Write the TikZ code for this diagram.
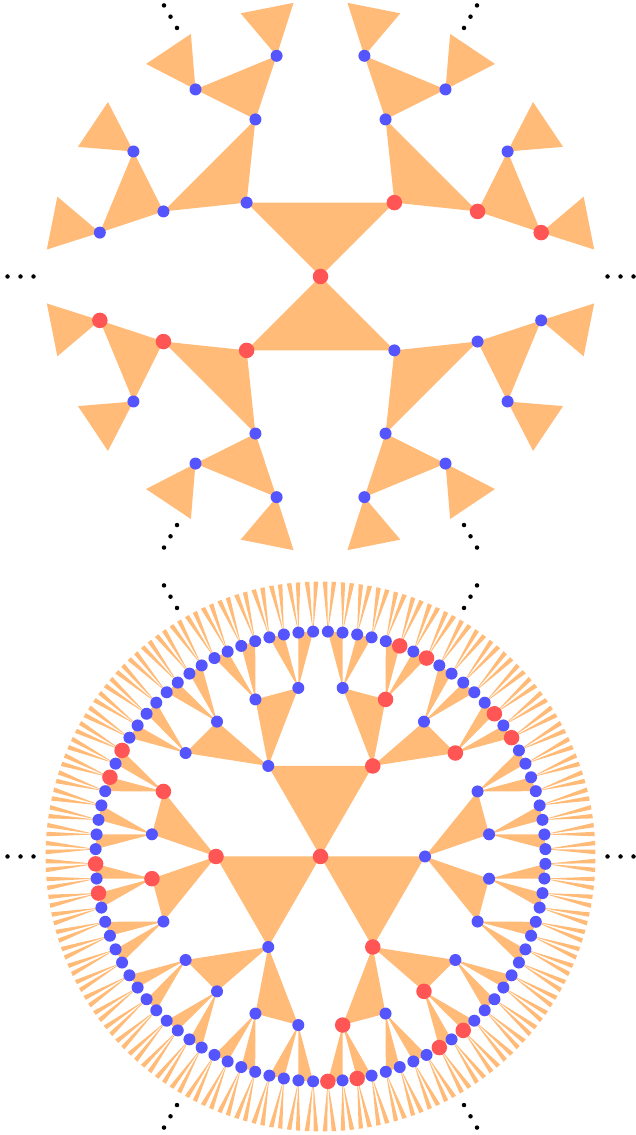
\documentclass[tikz,border=0pt]{standalone}
\definecolor{triorange}{RGB}{255,187,119}
\definecolor{dotblue}{RGB}{85,85,255}
\definecolor{dotred}{RGB}{255,85,85}
\tikzset{
  tri/.style={fill=triorange,draw=none},
  bdot/.style={circle,fill=dotblue,draw=none,inner sep=0pt,minimum size=12pt},
  rdot/.style={circle,fill=dotred,draw=none,inner sep=0pt,minimum size=15.5pt},
  edot/.style={circle,fill=black,draw=none,inner sep=0pt,minimum size=4.5pt},
}
\begin{document}
\begin{tikzpicture}[x=1pt,y=1pt]
\useasboundingbox (0,0) rectangle (636,1135);
% ================= top picture =================
\coordinate (P) at (320.5,858.5);
\foreach \i in {0,...,3}  {\path (P) ++({45+90*\i}:104.5) coordinate (p1-\i);}
\foreach \i in {0,...,7}  {\path (P) ++({22.5+45*\i}:170) coordinate (p2-\i);}
\foreach \i in {0,...,15} {\path (P) ++({11.25+22.5*\i}:225) coordinate (p3-\i);}
\foreach \i in {0,...,31} {\path (P) ++({5.625+11.25*\i}:275) coordinate (p4-\i);}
\foreach \m in {0,1} {
  \pgfmathtruncatemacro\ia{2*\m}\pgfmathtruncatemacro\ib{2*\m+1}
  \fill[tri] (P) -- (p1-\ia) -- (p1-\ib) -- cycle;}
\foreach \lv/\pv/\cnt in {2/1/3, 3/2/7, 4/3/15} {
  \foreach \m in {0,...,\cnt} {
    \pgfmathtruncatemacro\ia{2*\m}\pgfmathtruncatemacro\ib{2*\m+1}
    \fill[tri] (p\pv-\m) -- (p\lv-\ia) -- (p\lv-\ib) -- cycle;}}
% ================= bottom picture =================
\coordinate (Q) at (320.5,278.5);
\foreach \i in {0,...,5}   {\path (Q) ++({60+60*\i}:104.5) coordinate (q1-\i);}
\foreach \i in {0,...,23}  {\path (Q) ++({37.5+15*\i}:170) coordinate (q2-\i);}
\foreach \i in {0,...,95}  {\path (Q) ++({31.875+3.75*\i}:225) coordinate (q3-\i);}
\foreach \i in {0,...,383} {\path (Q) ++({30.46875+0.9375*\i}:275) coordinate (q4-\i);}
\foreach \m in {0,1,2} {
  \pgfmathtruncatemacro\ia{2*\m}\pgfmathtruncatemacro\ib{2*\m+1}
  \fill[tri] (Q) -- (q1-\ia) -- (q1-\ib) -- cycle;}
\foreach \lv/\pv/\cnt in {2/1/11, 3/2/47, 4/3/191} {
  \foreach \m in {0,...,\cnt} {
    \pgfmathtruncatemacro\ip{\m/2}
    \pgfmathtruncatemacro\ia{2*\m}\pgfmathtruncatemacro\ib{2*\m+1}
    \fill[tri] (q\pv-\ip) -- (q\lv-\ia) -- (q\lv-\ib) -- cycle;}}
% ================= dots: top =================
\node[rdot] (np0) at (P) {};
\foreach \i in {0,...,3} {\pgfmathtruncatemacro\rr{mod(\i,2)==0}
  \ifnum\rr=1 \node[rdot] (np1-\i) at (p1-\i) {};\else\node[bdot] (np1-\i) at (p1-\i) {};\fi}
\foreach \i in {0,...,7} {\pgfmathtruncatemacro\rr{mod(\i,4)==0}
  \ifnum\rr=1 \node[rdot] (np2-\i) at (p2-\i) {};\else\node[bdot] (np2-\i) at (p2-\i) {};\fi}
\foreach \i in {0,...,15} {\pgfmathtruncatemacro\rr{mod(\i,8)==0}
  \ifnum\rr=1 \node[rdot] (np3-\i) at (p3-\i) {};\else\node[bdot] (np3-\i) at (p3-\i) {};\fi}
% ================= dots: bottom =================
\node[rdot] (nq0) at (Q) {};
\foreach \i in {0,...,5} {\pgfmathtruncatemacro\rr{mod(\i,2)==0}
  \ifnum\rr=1 \node[rdot] (nq1-\i) at (q1-\i) {};\else\node[bdot] (nq1-\i) at (q1-\i) {};\fi}
\foreach \i in {0,...,23} {\pgfmathtruncatemacro\rr{(mod(\i,2)==0) && (mod(floor(\i/4),2)==0)}
  \ifnum\rr=1 \node[rdot] (nq2-\i) at (q2-\i) {};\else\node[bdot] (nq2-\i) at (q2-\i) {};\fi}
\foreach \i in {0,...,95} {\pgfmathtruncatemacro\rr{(mod(\i,2)==0) && (mod(floor(\i/4),2)==0) && (mod(floor(\i/16),2)==0)}
  \ifnum\rr=1 \node[rdot] (nq3-\i) at (q3-\i) {};\else\node[bdot] (nq3-\i) at (q3-\i) {};\fi}
% ================= ellipses =================
\foreach \C in {P,Q} {
  \foreach \k in {0,...,5} {
    \foreach \r in {287,300,313} {
      \path (\C) ++({60*\k}:\r) node[edot] (e\C-\k-\r) {};}}}
\end{tikzpicture}
\end{document}
